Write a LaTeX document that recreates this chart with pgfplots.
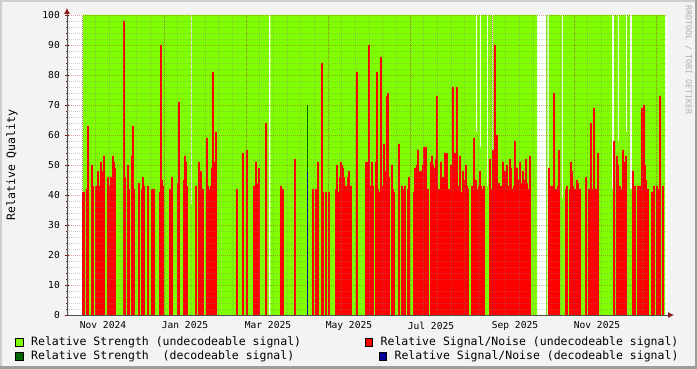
\documentclass[border=0pt]{standalone}
\usepackage{pgfplots}
\pgfplotsset{compat=1.18}
\usepackage{fontspec}
\setmonofont{DejaVu Sans Mono}
\newfontfamily\rrd{DejaVu Sans Mono}
\usetikzlibrary{arrows.meta}
\definecolor{canvasbg}{HTML}{F3F3F3}
\definecolor{rrdgreen}{HTML}{80FF00}
\definecolor{rrddkgreen}{HTML}{006600}
\definecolor{rrdred}{HTML}{FF0000}
\definecolor{rrdblue}{HTML}{000099}
\definecolor{arrowred}{HTML}{8B1A1A}
\definecolor{axiscol}{HTML}{505050}
\definecolor{shadea}{HTML}{CFCFCF}
\definecolor{shadeb}{HTML}{9E9E9E}
\definecolor{wmark}{HTML}{B0B0B0}
\begin{document}
\begin{tikzpicture}[x=1pt,y=1pt]
\fill[canvasbg] (-67,-54) rectangle (630,315);
\fill[shadea] (-67,313) rectangle (630,315);
\fill[shadea] (-67,-54) rectangle (-65,315);
\fill[shadeb] (-67,-54) rectangle (630,-51.5);
\fill[shadeb] (627.5,-54) rectangle (630,315);
\begin{axis}[
  at={(0,0)}, anchor=south west, scale only axis,
  width=600pt, height=300pt,
  xmin=67, xmax=667, ymin=0, ymax=100,
  axis lines=left,
  axis line style={axiscol, line width=0.8pt},
  x axis line style={-{Latex[length=6pt,width=6pt,color=arrowred]}, shorten >=-7pt},
  y axis line style={-{Latex[length=6pt,width=6pt,color=arrowred]}, shorten >=-7pt},
  axis background/.style={fill=white},
  axis on top,
  ytick={0,10,...,100},
  minor y tick num=4,
  ymajorgrids, yminorgrids,
  xtick={103,185,268,349,431,515,597},
  xticklabels={Nov 2024,Jan 2025,Mar 2025,May 2025,Jul 2025,Sep 2025,Nov 2025},
  xtick style={draw=none},
  minor xtick={68.333,82,...,667},
  xminorgrids,
  extra x ticks={82,164,246,328,410,492,574,656},
  extra x tick labels={},
  extra x tick style={grid=major, tick style={draw=arrowred, line width=0.6pt}},
  major grid style={draw=red!65!black, opacity=0.35, line width=0.7pt, dash pattern=on 1pt off 1pt},
  minor grid style={draw=gray, opacity=0.4, line width=0.7pt, dash pattern=on 1pt off 1pt},
  major tick length=4pt, minor tick length=2pt, tick align=center,
  ytick style={draw=arrowred, line width=0.6pt},
  minor tick style={draw=axiscol, line width=0.5pt},
  /pgf/number format/assume math mode=true,
  tick label style={font=\rrd\fontsize{9.6}{10}\selectfont, text=black},
  yticklabel style={inner sep=0pt, xshift=-5pt},
  xticklabel style={inner sep=0pt, yshift=-4.5pt},
  ylabel={Relative Quality},
  ylabel style={font=\rrd\fontsize{11.5}{12}\selectfont, at={(axis description cs:-0.0917,0.5)}, anchor=center},
  legend columns=2,
  legend cell align=left,
  legend style={at={(axis description cs:-0.0867,-0.073)}, anchor=north west, draw=none, fill=none,
    font=\rrd\fontsize{11.5}{12}\selectfont, inner sep=0pt, row sep=3.2pt,
    nodes={inner sep=0pt, text height=8.2pt, text depth=2.6pt},
    /tikz/every odd column/.style={column sep=7.8pt},
    /tikz/every even column/.style={column sep=63.5pt}},
]
% Relative Strength (undecodeable)
\addplot[const plot, fill=rrdgreen, draw=none,
  legend image code/.code={\draw[black, line width=0.6pt, fill=rrdgreen] (0pt,-3.8pt) rectangle (7.6pt,3.8pt);}]
coordinates {(83,100) (191,37) (192,100) (269,0) (270.5,100) (476,61) (477,100) (480,56) (481,100)
 (487,43) (488,100) (492,42) (493,100) (537,0) (546,100) (547.3,0) (548.7,100) (562,39) (563,100)
 (612,42) (614,100) (618,58) (619,100) (626,61) (627,100) (630,42) (632,100) (665,100)} \closedcycle;
\addlegendentry{Relative Strength (undecodeable signal)}
% Relative Signal/Noise (undecodeable)
\addplot[ybar, bar width=1.8, bar shift=0pt, fill=rrdred, draw=none,
  legend image code/.code={\draw[black, line width=0.6pt, fill=rrdred] (0pt,-3.8pt) rectangle (7.6pt,3.8pt);}]
coordinates {
(83,41)(84,41)(87,42)(88,63)(92,50)(93,43)(96,43)(97,42)(98,48)(99,43)
(101,51)(102,43)(103,48)(104,53)(108,46)(109,42)(110,43)(111,46)(112,42)(113,53)(114,51)(115,49)
(124,98)(125,46)(128,50)(129,42)(132,53)(133,63)(134,42)(139,44)(142,42)(143,46)(144,43)(148,43)
(152,42)(153,42)(154,42)(160,41)(161,90)(162,45)(163,43)(170,42)(172,46)(178,44)(179,71)
(184,45)(185,53)(186,51)(187,43)(196,43)(199,51)(201,48)(203,42)
(207,59)(208,43)(209,42)(210,42)(211,43)(212,49)(213,81)(214,45)(215,51)(216,61)
(237,42)(243,54)(247,55)(254,43)(255,43)(256,51)(257,44)(259,49)(266,64)
(281,43)(283,42)(295,52)(313,42)(316,42)(318,51)(322,84)(323,41)(326,41)(329,41)
(336,42)(337,50)(339,41)(340,46)(341,51)(342,50)(343,49)(344,46)(345,43)(346,43)(347,43)(348,46)(349,48)(350,42)(351,43)
(357,81)(366,51)(367,42)(368,51)(369,90)(370,43)(371,43)(372,51)(373,43)
(376,51)(377,81)(378,42)(379,41)(381,86)(382,43)(384,57)(385,48)(386,43)(387,73)(388,74)(389,46)
(392,50)(393,42)(394,41)(399,57)(402,43)(403,41)(404,42)(405,43)(408,42)(409,46)
(414,41)(415,49)(416,46)(417,50)(418,55)(419,45)(420,48)(421,48)(422,45)(423,50)(424,56)(425,48)(426,56)(427,42)(428,42)
(431,51)(432,53)(433,50)(434,43)(435,49)(436,52)(437,73)(438,42)
(440,42)(441,51)(442,43)(443,46)(444,46)(445,54)(446,42)(447,54)
(449,42)(450,42)(451,50)(452,42)(453,76)(454,42)(455,54)(456,41)(457,76)(458,41)(459,43)(460,53)(461,41)
(463,48)(464,44)(465,45)(466,50)(467,43)(468,42)
(472,43)(473,43)(474,59)(475,43)(476,45)(477,42)(478,42)(479,43)(480,48)(481,43)(483,42)(484,43)
(490,52)(491,42)(492,42)(493,55)(494,53)(495,90)(496,45)(497,60)(498,42)(499,44)
(501,43)(502,43)(503,51)(504,45)(505,48)(506,43)(507,50)(508,43)(509,43)(510,52)(511,49)(512,41)(513,42)(514,43)
(515,58)(516,43)(517,49)(518,45)(519,41)(520,51)(521,44)(522,42)(523,48)(524,42)(525,45)(526,52)(527,44)(528,42)(529,42)(530,53)
(549,49)(550,43)(551,42)(552,43)(553,42)(554,74)(555,42)(556,42)(558,43)(559,55)(566,42)(567,43)
(570,42)(571,51)(572,48)(573,43)(574,42)(575,42)(577,45)(578,44)(580,42)(586,46)
(589,42)(590,42)(591,64)(592,42)(593,42)(594,69)(595,42)(596,42)(598,54)
(614,58)(617,53)(618,50)(620,43)(621,42)(623,55)(624,51)(626,53)
(633,48)(634,42)(635,43)(638,43)(639,42)(640,43)(641,43)(642,69)(643,43)(644,70)(645,50)(646,45)(647,42)(648,42)
(652,41)(654,43)(657,43)(659,42)(660,73)(663,43)
};
\addlegendentry{Relative Signal/Noise (undecodeable signal)}
% Relative Strength (decodeable)
\addplot[ybar, bar width=1.6, bar shift=0pt, fill=rrddkgreen, draw=none,
  legend image code/.code={\draw[black, line width=0.6pt, fill=rrddkgreen] (0pt,-3.8pt) rectangle (7.6pt,3.8pt);}]
coordinates {(307.5,70)};
\addlegendentry{Relative Strength\ \ (decodeable signal)}
% Relative Signal/Noise (decodeable)
\addplot[ybar, bar width=1.6, bar shift=0pt, fill=rrdblue, draw=none,
  legend image code/.code={\path[fill=none, draw=none] (0pt,-3.8pt) rectangle (7.6pt,3.8pt); \draw[overlay, black, line width=0.6pt, fill=rrdblue] (13.9pt,-3.8pt) rectangle (21.5pt,3.8pt);}]
coordinates {(307.5,48)};
\addlegendentry{\hspace*{13.9pt}Relative Signal/Noise (decodeable signal)}
\end{axis}
\node[rotate=-90, font=\rrd\fontsize{8.3}{9}\selectfont, text=wmark, inner sep=0pt] at (621.5,255) {RRDTOOL / TOBI OETIKER};
\end{tikzpicture}
\end{document}
